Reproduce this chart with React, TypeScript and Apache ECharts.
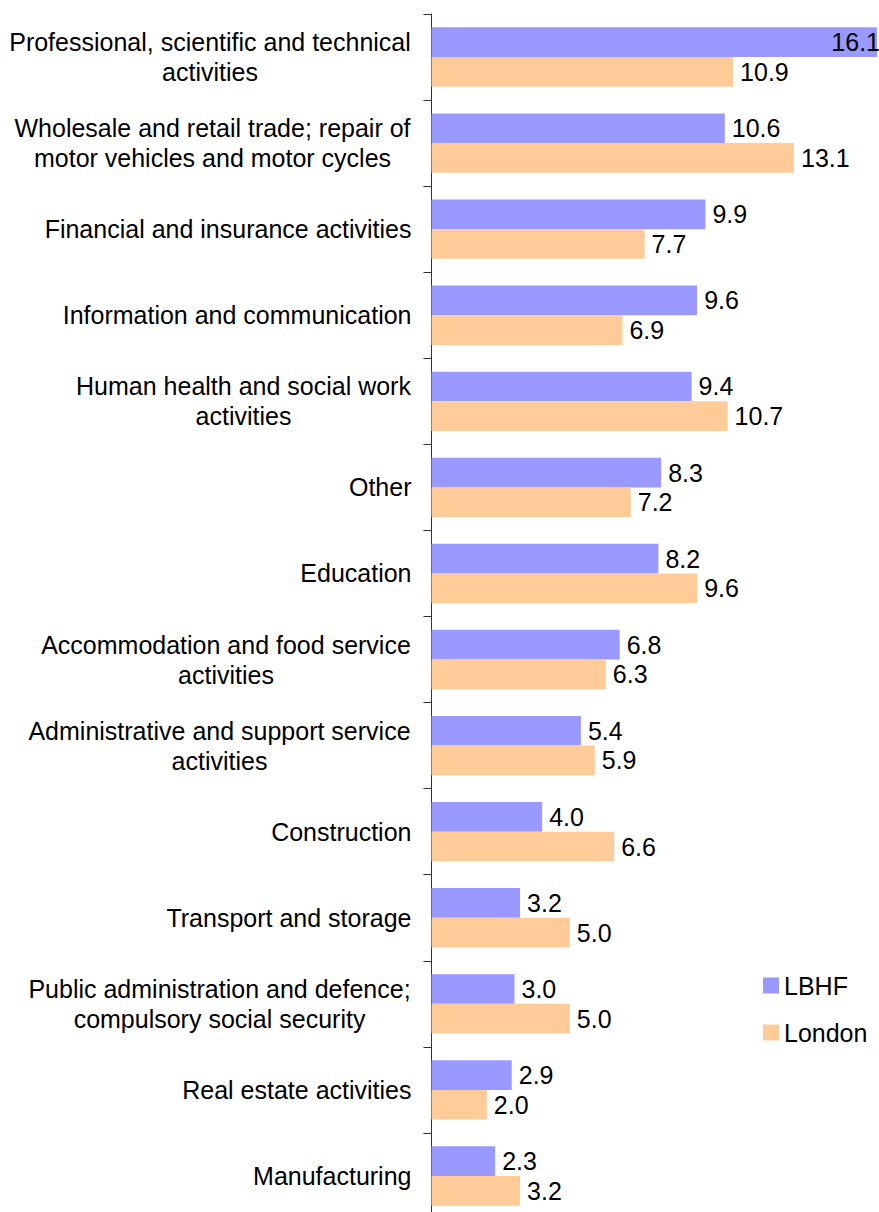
import React, { useEffect, useRef } from "react";
import * as echarts from "echarts";

const categories = [
  "Professional, scientific and technical\nactivities",
  "Wholesale and retail trade; repair of\nmotor vehicles and motor cycles",
  "Financial and insurance activities",
  "Information and communication",
  "Human health and social work\nactivities",
  "Other",
  "Education",
  "Accommodation and food service\nactivities",
  "Administrative and support service\nactivities",
  "Construction",
  "Transport and storage",
  "Public administration and defence;\ncompulsory social security",
  "Real estate activities",
  "Manufacturing",
];

const lbhf = [16.1, 10.6, 9.9, 9.6, 9.4, 8.3, 8.2, 6.8, 5.4, 4.0, 3.2, 3.0, 2.9, 2.3];
const london = [10.9, 13.1, 7.7, 6.9, 10.7, 7.2, 9.6, 6.3, 5.9, 6.6, 5.0, 5.0, 2.0, 3.2];

const seriesNames = ["LBHF", "London"];
const colors = ["#9999FF", "#FFCC99"];

const FONT = '"Liberation Sans", Arial, Helvetica, sans-serif';
const FS = 25;

function measure(text: string): number {
  const c = document.createElement("canvas");
  const ctx = c.getContext("2d");
  if (!ctx) return text.length * FS * 0.5;
  ctx.font = `${FS}px ${FONT}`;
  return ctx.measureText(text).width;
}

export default function App() {
  const ref = useRef<HTMLDivElement>(null);

  useEffect(() => {
    document.body.style.margin = "0";
    if (!ref.current) return;
    const chart = echarts.init(ref.current, null, { renderer: "svg" });

    const rich: Record<string, any> = {};
    categories.forEach((c, i) => {
      const lines = c.split("\n");
      const w = Math.ceil(Math.max(...lines.map(measure))) + 1;
      rich["c" + i] = {
        width: w,
        align: "center",
        fontSize: FS,
        lineHeight: 30,
        fontFamily: FONT,
        color: "#000",
      };
    });

    const labelFmt = (p: any) => Number(p.value).toFixed(1);

    chart.setOption({
      animation: false,
      textStyle: { fontFamily: FONT },
      grid: { left: 431.5, width: 445.5, top: 14, height: 1205, containLabel: false },
      legend: {
        data: seriesNames,
        orient: "vertical",
        left: 758,
        top: 968,
        icon: "rect",
        itemWidth: 16,
        itemHeight: 16,
        itemGap: 22,
        textStyle: { fontSize: FS, color: "#000", fontFamily: FONT },
      },
      xAxis: {
        type: "value",
        min: 0,
        max: 16.1,
        show: false,
      },
      yAxis: {
        type: "category",
        inverse: true,
        data: categories,
        axisLine: { show: true, lineStyle: { color: "#333", width: 1 } },
        axisTick: { show: true, length: 8, lineStyle: { color: "#333" } },
        axisLabel: {
          margin: 20,
          fontSize: FS,
          lineHeight: 30,
          color: "#000",
          fontFamily: FONT,
          rich,
          formatter: (value: string, idx: number) => {
            const lines = value.split("\n");
            if (lines.length === 1) return value;
            return lines.map((l) => `{c${idx}|${l}}`).join("\n");
          },
        },
        splitLine: { show: false },
      },
      series: [
        {
          name: seriesNames[0],
          type: "bar",
          data: lbhf.map((v, i) =>
            i === 0
              ? { value: v, label: { position: "insideRight", distance: -3 } }
              : v
          ),
          itemStyle: { color: colors[0] },
          barGap: "0%",
          barCategoryGap: "31%",
          label: {
            show: true,
            position: "right",
            distance: 7,
            fontSize: FS,
            color: "#000",
            fontFamily: FONT,
            formatter: labelFmt,
          },
        },
        {
          name: seriesNames[1],
          type: "bar",
          data: london,
          itemStyle: { color: colors[1] },
          barGap: "0%",
          barCategoryGap: "31%",
          label: {
            show: true,
            position: "right",
            distance: 7,
            fontSize: FS,
            color: "#000",
            fontFamily: FONT,
            formatter: labelFmt,
          },
        },
      ],
    });

    return () => chart.dispose();
  }, []);

  return (
    <div style={{ width: 879, height: 1212, overflow: "hidden" }}>
      <div ref={ref} style={{ width: 879, height: 1220 }} />
    </div>
  );
}
